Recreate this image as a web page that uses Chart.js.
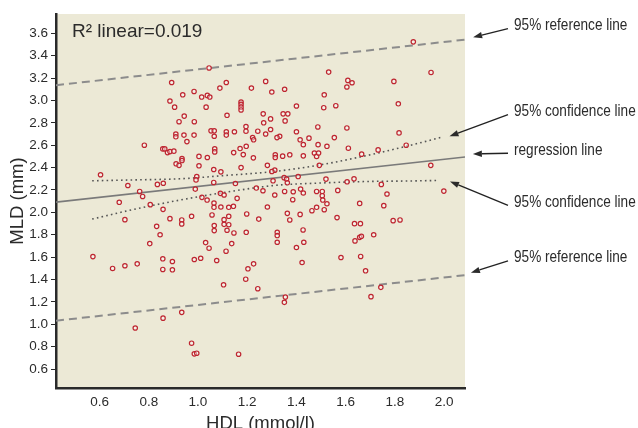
<!DOCTYPE html>
<html>
<head>
<meta charset="utf-8">
<script src="https://cdn.jsdelivr.net/npm/chart.js@4.4.1/dist/chart.umd.min.js"></script>
<style>
  html, body { margin: 0; padding: 0; background: #fff; }
  #wrap { width: 638px; height: 428px; }
</style>
</head>
<body>
<div id="wrap"><canvas id="mldChart"></canvas></div>
<script>
// HDL (mmol/l) and MLD (mm) per patient
const hdl = [
  0.604, 1.045, 0.893, 1.115, 1.275, 1.217, 1.352, 1.089, 0.984, 1.300,
  0.938, 1.038, 1.048, 1.015, 0.886, 0.905, 1.033, 1.175, 1.175, 1.175,
  1.175, 1.400, 1.265, 1.346, 1.365, 1.118, 0.944, 1.295, 1.354, 0.985,
  0.923, 1.267, 1.195, 1.195, 1.487, 1.295, 1.053, 1.066, 1.115, 1.115,
  1.148, 1.243, 1.400, 0.910, 0.910, 0.943, 0.984, 1.066, 1.275, 1.332,
  1.321, 1.222, 1.226, 1.451, 0.955, 1.415, 0.782, 1.196, 1.428, 1.488,
  1.068, 1.068, 1.171, 0.857, 0.865, 0.876, 0.886, 0.902, 1.145, 1.184,
  1.314, 1.314, 1.373, 1.344, 1.428, 1.473, 1.482, 1.490, 1.004, 1.038,
  1.225, 0.935, 0.935, 0.911, 0.923, 1.004, 1.175, 1.282, 1.493, 1.064,
  1.093, 1.312, 1.300, 1.407, 0.995, 0.992, 1.350, 1.360, 1.363, 1.305,
  1.064, 1.152, 0.859, 0.835, 0.715, 1.237, 0.989, 1.417, 1.428, 0.763,
  0.775, 1.352, 1.387, 1.482, 1.264, 1.091, 1.106, 1.312, 1.016, 1.159,
  1.037, 1.385, 0.680, 1.065, 1.065, 1.144, 1.125, 1.093, 0.806, 0.858,
  1.282, 1.482, 1.463, 1.363, 1.415, 1.198, 1.057, 0.974, 1.125, 0.886,
  0.934, 0.703, 1.247, 0.934, 1.106, 0.832, 1.066, 1.066, 1.106, 1.125,
  1.373, 0.846, 1.118, 1.146, 1.196, 1.322, 1.322, 1.427, 0.804, 1.031,
  1.137, 1.322, 1.430, 1.045, 1.400, 1.114, 0.573, 1.011, 0.857, 0.985,
  1.076, 0.896, 0.753, 1.226, 1.423, 0.653, 0.703, 0.857, 0.896, 1.203,
  1.194, 1.104, 1.243, 1.355, 1.351, 0.934, 0.858, 0.745, 0.974, 0.985,
  0.995, 1.165, 1.875, 1.531, 1.947, 1.609, 1.626, 1.605, 1.796, 1.513,
  1.511, 1.560, 1.814, 1.605, 1.817, 1.554, 1.524, 1.611, 1.732, 1.846,
  1.665, 1.946, 1.520, 1.634, 1.606, 1.745, 1.505, 1.505, 1.507, 1.568,
  1.768, 1.999, 1.524, 1.657, 1.755, 1.513, 1.565, 1.821, 1.793, 1.636,
  1.660, 1.638, 1.657, 1.664, 1.714, 1.581, 1.661, 1.681, 1.743, 1.703
];
const mld = [
  2.336, 3.290, 3.160, 3.160, 3.170, 3.110, 3.100, 3.110, 3.080, 3.075,
  3.050, 3.045, 3.030, 3.030, 2.995, 2.940, 2.940, 2.986, 2.965, 2.940,
  2.915, 2.950, 2.880, 2.880, 2.880, 2.867, 2.860, 2.835, 2.817, 2.810,
  2.810, 2.800, 2.766, 2.725, 2.763, 2.740, 2.728, 2.728, 2.720, 2.690,
  2.720, 2.725, 2.720, 2.700, 2.675, 2.690, 2.690, 2.680, 2.700, 2.680,
  2.668, 2.668, 2.648, 2.663, 2.632, 2.648, 2.600, 2.590, 2.605, 2.605,
  2.567, 2.540, 2.570, 2.567, 2.567, 2.534, 2.543, 2.547, 2.534, 2.516,
  2.514, 2.490, 2.514, 2.502, 2.505, 2.530, 2.500, 2.530, 2.500, 2.490,
  2.487, 2.480, 2.463, 2.434, 2.420, 2.416, 2.400, 2.420, 2.420, 2.383,
  2.362, 2.377, 2.365, 2.320, 2.320, 2.290, 2.310, 2.297, 2.264, 2.282,
  2.267, 2.258, 2.260, 2.250, 2.240, 2.217, 2.208, 2.208, 2.173, 2.187,
  2.142, 2.187, 2.184, 2.187, 2.193, 2.170, 2.155, 2.155, 2.134, 2.125,
  2.110, 2.113, 2.090, 2.083, 2.045, 2.054, 2.045, 2.048, 2.069, 2.027,
  2.048, 2.045, 2.015, 1.991, 1.982, 1.986, 1.977, 1.965, 1.965, 1.944,
  1.932, 1.935, 1.940, 1.897, 1.935, 1.875, 1.882, 1.837, 1.893, 1.890,
  1.932, 1.800, 1.840, 1.816, 1.822, 1.822, 1.793, 1.843, 1.721, 1.730,
  1.721, 1.733, 1.733, 1.680, 1.686, 1.653, 1.605, 1.590, 1.585, 1.579,
  1.570, 1.561, 1.540, 1.540, 1.552, 1.499, 1.523, 1.490, 1.487, 1.496,
  1.403, 1.353, 1.318, 1.243, 1.196, 1.107, 1.055, 0.967, 0.831, 0.736,
  0.742, 0.733, 3.523, 3.253, 3.250, 3.179, 3.158, 3.120, 3.170, 3.050,
  2.935, 2.953, 2.970, 2.754, 2.710, 2.668, 2.590, 2.573, 2.558, 2.600,
  2.520, 2.420, 2.297, 2.300, 2.273, 2.250, 2.187, 2.149, 2.110, 2.196,
  2.164, 2.190, 2.077, 2.080, 2.060, 2.024, 1.953, 1.932, 1.926, 1.899,
  1.899, 1.745, 1.777, 1.786, 1.800, 1.597, 1.606, 1.478, 1.330, 1.247
];

// fitted lines across the axis range
const lineX = [0.423, 2.085];
const regression = [2.091, 2.495];
const refUpper = [3.136, 3.543];
const refLower = [1.032, 1.439];

// 95% confidence band of the mean, over the data range
const confUpperX = [0.570, 0.740, 0.927, 1.114, 1.309, 1.496, 1.691, 1.846, 1.992];
const confUpper  = [2.282, 2.290, 2.300, 2.330, 2.365, 2.424, 2.510, 2.590, 2.672];
const confLowerX = [0.570, 0.740, 0.927, 1.114, 1.309, 1.496, 1.691, 1.846, 1.974];
const confLower  = [1.940, 2.027, 2.110, 2.180, 2.240, 2.262, 2.276, 2.280, 2.285];

const xTicks = [0.6, 0.8, 1.0, 1.2, 1.4, 1.6, 1.8, 2.0];
const yTicks = [0.6, 0.8, 1.0, 1.2, 1.4, 1.6, 1.8, 2.0, 2.2, 2.4, 2.6, 2.8, 3.0, 3.2, 3.4, 3.6];

const rSquaredText = 'R\u00B2 linear=0.019';

// callouts on the right: label, where the label sits (y value) and the arrow tip
const callouts = [
  { text: '95% reference line',  labelY: 3.669, tipX: 2.118, tipY: 3.564 },
  { text: '95% confidence line', labelY: 2.899, tipX: 2.022, tipY: 2.679 },
  { text: 'regression line',     labelY: 2.555, tipX: 2.117, tipY: 2.522 },
  { text: '95% confidence line', labelY: 2.089, tipX: 2.024, tipY: 2.276 },
  { text: '95% reference line',  labelY: 1.594, tipX: 2.109, tipY: 1.461 }
];

const SANS = "'Liberation Sans', Arial, sans-serif";
const TEXT = '#2b2b2b';

const toPoints = (xs, ys) => xs.map((x, i) => ({ x: x, y: ys[i] }));

const plotBackground = {
  id: 'plotBackground',
  beforeDraw(chart) {
    const { ctx, chartArea: a } = chart;
    ctx.save();
    ctx.fillStyle = '#ECE9D6';
    ctx.fillRect(a.left, a.top, a.right - a.left, a.bottom - a.top);
    ctx.restore();
  }
};

// condensed look: squeeze the glyphs horizontally
function narrowText(ctx, text, x, y, sx) {
  ctx.save();
  ctx.translate(x, y);
  ctx.scale(sx, 1);
  ctx.fillText(text, 0, 0);
  ctx.restore();
}

function drawArrow(ctx, x1, y1, x2, y2) {
  const ang = Math.atan2(y2 - y1, x2 - x1);
  const head = 9, half = 3.2;
  const bx = x2 - head * Math.cos(ang);
  const by = y2 - head * Math.sin(ang);
  ctx.beginPath();
  ctx.moveTo(x1, y1);
  ctx.lineTo(bx, by);
  ctx.stroke();
  ctx.beginPath();
  ctx.moveTo(x2, y2);
  ctx.lineTo(bx + half * Math.sin(ang), by - half * Math.cos(ang));
  ctx.lineTo(bx - half * Math.sin(ang), by + half * Math.cos(ang));
  ctx.closePath();
  ctx.fill();
}

const labels = {
  id: 'labels',
  afterDraw(chart) {
    const { ctx, chartArea: a, scales } = chart;
    const xs = scales.x, ys = scales.y;
    ctx.save();

    ctx.fillStyle = TEXT;
    ctx.font = '19px ' + SANS;
    ctx.textBaseline = 'middle';
    ctx.textAlign = 'left';
    ctx.fillText(rSquaredText, a.left + 16, a.top + 18);

    const textX = a.right + 49;
    ctx.font = '17px ' + SANS;
    ctx.strokeStyle = '#222';
    ctx.fillStyle = TEXT;
    ctx.lineWidth = 1.3;
    callouts.forEach(c => {
      const ty = ys.getPixelForValue(c.labelY);
      narrowText(ctx, c.text, textX, ty, 0.8);
      drawArrow(ctx, textX - 6, ty + 3,
        xs.getPixelForValue(c.tipX), ys.getPixelForValue(c.tipY));
    });
    ctx.restore();
  }
};

new Chart(document.getElementById('mldChart'), {
  type: 'scatter',
  data: {
    datasets: [
      {
        label: 'Patients',
        data: toPoints(hdl, mld),
        pointRadius: 2.2,
        pointBorderWidth: 1.2,
        pointBorderColor: '#BE2530',
        pointBackgroundColor: 'rgba(255,255,255,0.45)',
        order: 0
      },
      {
        label: 'Regression',
        data: toPoints(lineX, regression),
        showLine: true, pointRadius: 0,
        borderColor: '#7a7a7a', borderWidth: 1.6,
        order: 1
      },
      {
        label: 'Reference upper',
        data: toPoints(lineX, refUpper),
        showLine: true, pointRadius: 0,
        borderColor: '#8c8c8c', borderWidth: 2, borderDash: [8, 5],
        order: 1
      },
      {
        label: 'Reference lower',
        data: toPoints(lineX, refLower),
        showLine: true, pointRadius: 0,
        borderColor: '#8c8c8c', borderWidth: 2, borderDash: [8, 5],
        order: 1
      },
      {
        label: 'Confidence upper',
        data: toPoints(confUpperX, confUpper),
        showLine: true, pointRadius: 0, cubicInterpolationMode: 'monotone',
        borderColor: '#555', borderWidth: 1.6, borderDash: [1.6, 3.2],
        order: 1
      },
      {
        label: 'Confidence lower',
        data: toPoints(confLowerX, confLower),
        showLine: true, pointRadius: 0, cubicInterpolationMode: 'monotone',
        borderColor: '#555', borderWidth: 1.6, borderDash: [1.6, 3.2],
        order: 1
      }
    ]
  },
  options: {
    responsive: true,
    maintainAspectRatio: false,
    animation: false,
    devicePixelRatio: 1,
    layout: { padding: { top: 14, right: 173, left: 0, bottom: 0 } },
    plugins: {
      legend: { display: false },
      tooltip: { enabled: false }
    },
    scales: {
      x: {
        type: 'linear',
        min: 0.423,
        max: 2.085,
        afterFit: s => { s.height = 40; },
        afterBuildTicks: s => { s.ticks = xTicks.map(v => ({ value: v })); },
        grid: { display: true, drawOnChartArea: false, drawTicks: false },
        border: { color: '#2a2a2a', width: 2.5 },
        ticks: {
          padding: 6,
          color: TEXT,
          font: { family: SANS, size: 13.5 },
          callback: v => v.toFixed(1)
        },
        title: {
          display: true,
          text: 'HDL (mmol/l)',
          color: TEXT,
          font: { family: SANS, size: 18.5, lineHeight: 1.2 },
          padding: { top: 0, bottom: -7 }
        }
      },
      y: {
        type: 'linear',
        min: 0.431,
        max: 3.772,
        afterFit: s => { s.width = 56; },
        afterBuildTicks: s => { s.ticks = yTicks.map(v => ({ value: v })); },
        grid: { display: true, drawOnChartArea: false, drawTicks: true, tickLength: 5, color: '#2a2a2a' },
        border: { color: '#2a2a2a', width: 2.5 },
        ticks: {
          padding: 3,
          color: TEXT,
          font: { family: SANS, size: 13.5 },
          callback: v => v.toFixed(1)
        },
        title: {
          display: true,
          text: 'MLD (mm)',
          color: TEXT,
          font: { family: SANS, size: 18.5, lineHeight: 1.2 },
          padding: { top: 7, bottom: 0 }
        }
      }
    }
  },
  plugins: [plotBackground, labels]
});
</script>
</body>
</html>
